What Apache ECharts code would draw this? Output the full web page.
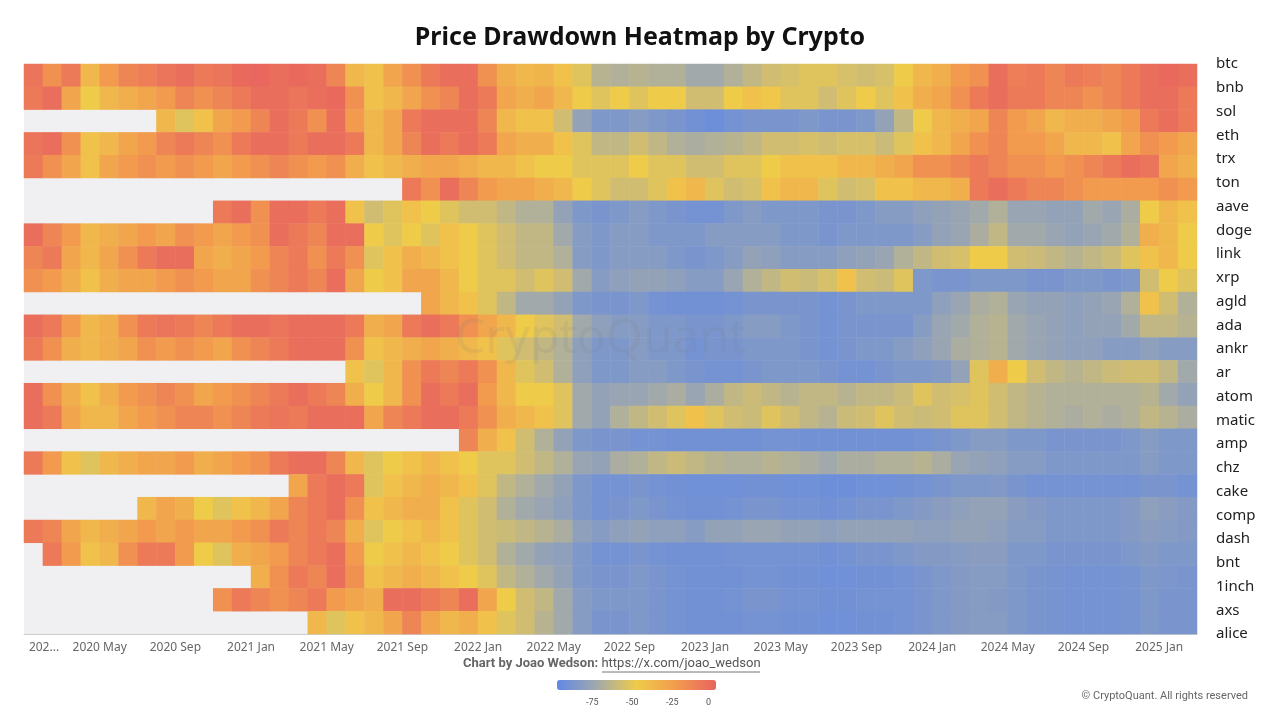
<!DOCTYPE html>
<html><head><meta charset="utf-8">
<script src="https://cdn.jsdelivr.net/npm/echarts@6/dist/echarts.min.js"></script>
<style>html,body{margin:0;padding:0;background:#fff}#c{width:1280px;height:720px}</style>
</head><body><div id="c"></div>
<script>
const coins = ['btc','bnb','sol','eth','trx','ton','aave','doge','link','xrp','agld','ada','ankr','ar','atom','matic','amp','chz','cake','comp','dash','bnt','1inch','axs','alice'];
const N = null;
// monthly drawdown (%) from Jan 2020 to Feb 2025
const btc = [-8, -20,-10,-40,-25,-15,-12,-8,-5,-10,-8,-3,-2, -5,-3,-5,-15,-40,-45,-30,-20,-10,-5,-5,-20, -35,-40,-38,-45,-55,-68,-70,-68,-70,-70,-75,-75, -70,-65,-60,-58,-55,-55,-58,-60,-58,-50,-40,-35, -25,-20,-5,-12,-10,-15,-10,-12,-15,-10,-5,-3, -5];
const bnb = [-10, -5,-30,-50,-40,-35,-30,-25,-15,-20,-15,-10,-5, -5,-8,-5,-3,-20,-45,-40,-30,-20,-15,-5,-10, -30,-35,-30,-40,-50,-55,-50,-55,-50,-50,-60,-60, -50,-45,-48,-55,-55,-60,-55,-50,-55,-45,-35,-30, -20,-10,-5,-10,-10,-15,-15,-20,-15,-10,-5,-5, -10];
const sol = [N, N,N,N,N,N,N,-40,-55,-45,-30,-25,-15, -5,-10,-20,-5,-25,-40,-30,-10,-5,-5,-5,-15, -40,-45,-45,-60,-80,-88,-88,-85,-88,-90,-93,-95, -92,-90,-90,-90,-88,-90,-90,-88,-80,-65,-50,-40, -35,-30,-15,-25,-30,-40,-35,-35,-30,-25,-10,-5, -10];
const eth = [-8, -5,-20,-45,-40,-30,-25,-15,-10,-15,-20,-10,-5, -5,-10,-5,-5,-10,-40,-30,-15,-5,-10,-5,-10, -30,-35,-35,-45,-55,-65,-65,-60,-65,-70,-72,-70, -68,-65,-60,-60,-58,-60,-58,-58,-62,-55,-45,-40, -30,-20,-15,-25,-25,-30,-40,-40,-45,-30,-20,-25, -30];
const trx = [-10, -20,-30,-45,-30,-25,-20,-25,-20,-25,-30,-25,-20, -15,-20,-25,-20,-35,-45,-40,-35,-30,-30,-35,-40, -40,-45,-50,-50,-55,-55,-55,-50,-55,-55,-60,-60, -55,-55,-50,-45,-45,-45,-40,-40,-35,-30,-20,-20, -15,-10,-15,-20,-20,-25,-20,-15,-10,-5,-8,-30, -35];
const ton = [N, N,N,N,N,N,N,N,N,N,N,N,N, N,N,N,N,N,N,N,-10,-20,-5,-15,-25, -30,-30,-35,-40,-50,-55,-60,-60,-55,-45,-40,-55, -60,-58,-45,-40,-40,-55,-60,-58,-45,-45,-40,-40, -35,-10,-5,-10,-15,-15,-20,-25,-25,-25,-25,-20, -25];
const aave = [N, N,N,N,N,N,N,N,N,N,-10,-5,-20, -5,-5,-10,-5,-45,-60,-55,-45,-50,-55,-60,-60, -65,-70,-70,-80,-88,-90,-88,-85,-88,-90,-92,-92, -88,-85,-88,-88,-88,-90,-90,-88,-85,-85,-82,-80, -78,-75,-70,-78,-78,-80,-80,-75,-78,-72,-50,-40, -45];
const doge = [-5, -15,-25,-40,-35,-30,-25,-30,-20,-25,-30,-25,-20, -5,-10,-15,-5,-5,-50,-55,-50,-55,-45,-50,-55, -60,-65,-65,-75,-85,-88,-85,-85,-88,-88,-88,-85, -85,-85,-85,-88,-88,-90,-88,-88,-88,-88,-85,-80, -78,-72,-65,-75,-75,-78,-80,-78,-75,-70,-35,-40, -50];
const link = [-15, -10,-30,-40,-30,-20,-10,-5,-5,-30,-35,-30,-25, -15,-10,-20,-10,-20,-55,-45,-35,-40,-45,-50,-55, -60,-65,-65,-70,-85,-88,-85,-85,-85,-88,-90,-88, -85,-80,-82,-85,-85,-85,-82,-80,-78,-70,-65,-60, -58,-50,-50,-60,-62,-65,-68,-65,-62,-55,-45,-40, -50];
const xrp = [-20, -25,-35,-45,-35,-30,-30,-25,-20,-25,-30,-30,-20, -15,-10,-15,-5,-30,-50,-45,-30,-30,-40,-50,-55, -55,-60,-55,-60,-75,-85,-82,-80,-80,-82,-85,-85, -78,-70,-65,-60,-62,-58,-45,-60,-62,-55,-88,-90, -90,-88,-88,-88,-90,-90,-88,-88,-90,-88,-60,-50, -55];
const agld = [N, N,N,N,N,N,N,N,N,N,N,N,N, N,N,N,N,N,N,N,N,-30,-40,-45,-55, -65,-75,-75,-80,-88,-90,-90,-88,-92,-93,-93,-93, -92,-90,-90,-90,-90,-92,-90,-88,-88,-88,-88,-82, -78,-72,-70,-78,-80,-80,-82,-80,-78,-70,-45,-60, -70];
const ada = [-5, -10,-25,-40,-35,-20,-10,-8,-10,-15,-10,-5,-5, -8,-5,-5,-5,-10,-35,-30,-10,-5,-10,-20,-30, -40,-50,-55,-60,-75,-82,-85,-85,-88,-88,-90,-90, -88,-85,-85,-88,-90,-92,-90,-90,-90,-90,-85,-78, -75,-70,-68,-75,-78,-80,-82,-80,-80,-75,-65,-65, -68];
const ankr = [-10, -20,-35,-40,-35,-30,-20,-25,-20,-25,-30,-20,-15, -10,-5,-5,-5,-20,-45,-40,-35,-30,-35,-40,-45, -55,-60,-65,-70,-82,-88,-88,-85,-88,-88,-92,-90, -90,-88,-88,-88,-90,-92,-90,-88,-88,-85,-82,-78, -72,-70,-68,-75,-78,-80,-82,-82,-85,-85,-82,-85, -85];
const ar = [N, N,N,N,N,N,N,N,N,N,N,N,N, N,N,N,N,-45,-55,-40,-20,-10,-15,-10,-20, -40,-55,-60,-70,-82,-88,-88,-85,-85,-88,-90,-92, -92,-90,-88,-88,-88,-90,-92,-92,-90,-88,-88,-86, -80,-55,-35,-50,-60,-65,-68,-65,-62,-60,-60,-65, -75];
const atom = [-5, -20,-35,-45,-35,-25,-20,-15,-20,-30,-25,-20,-15, -10,-5,-10,-15,-35,-50,-40,-20,-5,-10,-5,-25, -40,-50,-50,-55,-75,-80,-78,-78,-75,-72,-78,-72, -65,-62,-65,-68,-65,-65,-68,-65,-65,-62,-55,-60, -58,-55,-60,-65,-68,-70,-70,-70,-70,-70,-68,-75, -80];
const matic = [-5, -10,-30,-40,-40,-30,-25,-20,-15,-15,-20,-15,-10, -8,-10,-5,-5,-5,-30,-15,-10,-5,-5,-10,-20, -35,-40,-45,-55,-75,-80,-70,-65,-60,-55,-45,-55, -60,-62,-55,-60,-65,-68,-62,-60,-55,-60,-62,-60, -55,-55,-60,-65,-68,-70,-72,-70,-72,-70,-65,-68, -72];
const amp = [N, N,N,N,N,N,N,N,N,N,N,N,N, N,N,N,N,N,N,N,N,N,N,-15,-35, -45,-60,-70,-80,-88,-90,-90,-92,-92,-93,-93,-93, -93,-93,-92,-92,-93,-93,-93,-93,-93,-93,-92,-90, -88,-85,-85,-88,-88,-90,-90,-90,-90,-88,-85,-88, -88];
const chz = [-10, -25,-45,-55,-40,-35,-30,-30,-25,-35,-30,-25,-20, -10,-5,-5,-15,-40,-55,-50,-45,-40,-45,-50,-55, -55,-60,-65,-70,-78,-80,-72,-70,-65,-62,-65,-68, -70,-70,-68,-70,-72,-75,-72,-72,-70,-70,-68,-72, -78,-80,-82,-85,-85,-88,-88,-88,-88,-88,-85,-88, -88];
const cake = [N, N,N,N,N,N,N,N,N,N,N,N,N, N,-30,-10,-5,-10,-55,-45,-40,-35,-40,-45,-55, -65,-70,-75,-80,-88,-92,-92,-90,-92,-93,-94,-94, -94,-93,-93,-94,-94,-95,-95,-94,-94,-93,-92,-90, -88,-88,-87,-90,-92,-92,-92,-92,-92,-92,-90,-90, -92];
const comp = [N, N,N,N,N,N,-40,-30,-35,-50,-55,-45,-40, -30,-15,-10,-5,-20,-45,-40,-35,-35,-45,-55,-60, -70,-75,-78,-82,-88,-92,-90,-88,-90,-92,-93,-93, -92,-90,-90,-92,-92,-93,-92,-90,-90,-88,-86,-84, -82,-80,-80,-84,-86,-88,-88,-88,-88,-86,-82,-84, -86];
const dash = [-10, -15,-30,-40,-35,-30,-25,-30,-25,-30,-30,-25,-20, -10,-15,-10,-15,-35,-55,-50,-45,-40,-45,-55,-60, -62,-65,-68,-72,-82,-85,-82,-80,-82,-82,-85,-80, -80,-78,-78,-80,-80,-82,-80,-80,-80,-80,-82,-82, -80,-80,-82,-85,-85,-88,-88,-88,-88,-86,-84,-85, -86];
const bnt = [N, -10,-25,-45,-40,-20,-10,-10,-25,-50,-55,-35,-30, -25,-15,-10,-5,-25,-50,-45,-40,-45,-50,-55,-60, -70,-75,-80,-82,-88,-92,-92,-90,-92,-93,-93,-93, -92,-92,-92,-92,-92,-93,-92,-90,-90,-88,-86,-86, -85,-84,-84,-88,-88,-90,-90,-90,-90,-88,-86,-88, -88];
const inch1 = [N, N,N,N,N,N,N,N,N,N,N,N,-35, -20,-10,-15,-5,-20,-45,-40,-35,-40,-45,-50,-55, -65,-70,-75,-80,-88,-90,-90,-88,-90,-92,-93,-93, -93,-92,-92,-93,-93,-94,-94,-93,-93,-92,-90,-88, -86,-85,-85,-88,-90,-91,-92,-92,-92,-91,-88,-89, -90];
const axs = [N, N,N,N,N,N,N,N,N,N,-20,-10,-15, -20,-15,-10,-25,-30,-35,-5,-5,-10,-15,-5,-30, -50,-60,-65,-75,-85,-88,-88,-88,-90,-92,-93,-93, -92,-90,-90,-92,-92,-93,-93,-92,-92,-92,-90,-88, -86,-85,-86,-88,-90,-91,-92,-92,-92,-91,-88,-90, -90];
const alice = [N, N,N,N,N,N,N,N,N,N,N,N,N, N,N,-40,-55,-45,-40,-30,-15,-30,-40,-35,-45, -55,-60,-68,-75,-85,-90,-90,-88,-90,-92,-93,-93, -93,-92,-92,-93,-93,-94,-94,-93,-93,-92,-90,-88, -86,-85,-85,-88,-90,-91,-92,-92,-92,-91,-88,-90, -90];
const rows = [btc,bnb,sol,eth,trx,ton,aave,doge,link,xrp,agld,ada,ankr,ar,atom,matic,amp,chz,cake,comp,dash,bnt,inch1,axs,alice];
const monNames = ['Jan','Feb','Mar','Apr','May','Jun','Jul','Aug','Sep','Oct','Nov','Dec'];
const months = [];
for (let y = 2020; y <= 2025; y++) for (let m = 0; m < 12; m++) { if (y === 2025 && m > 2) break; months.push(y + ' ' + monNames[m]); }
const cells = months.slice(0, 62);
const tickLabels = ['202...','2020 May','2020 Sep','2021 Jan','2021 May','2021 Sep','2022 Jan','2022 May','2022 Sep','2023 Jan','2023 May','2023 Sep','2024 Jan','2024 May','2024 Sep','2025 Jan'];
const legendTicks = ['-75','-50','-25','0'];

const data = [];
rows.forEach((r, i) => r.forEach((v, m) => data.push([m, i, v === null ? '-' : v])));

const legendText = legendTicks.map((t, k) => ({ type: 'text', left: 586 + k * 40, top: 698,
  style: { text: t, fill: '#555', fontSize: 9, fontFamily: 'Roboto' } }));

const chart = echarts.init(document.getElementById('c'));
chart.setOption({
  backgroundColor: '#fff',
  title: { text: 'Price Drawdown Heatmap by Crypto', left: 'center', top: 20,
    textStyle: { fontFamily: 'Noto Sans', fontSize: 25, fontWeight: 'bold', color: '#111' } },
  grid: { left: 24, right: 83, top: 64, bottom: 86, show: true, backgroundColor: '#f0f0f3', borderWidth: 0 },
  xAxis: [
    { type: 'category', data: cells, show: false },
    { type: 'category', data: months, boundaryGap: false, position: 'bottom', max: 61.6,
      axisLine: { lineStyle: { color: '#ccc' } },
      axisTick: { interval: (i) => i % 4 === 0 && i > 0, lineStyle: { color: '#ccc' } },
      axisLabel: { interval: (i) => i % 4 === 0, color: '#666', fontSize: 12, fontFamily: 'Noto Sans',
        formatter: (v, i) => i === 0 ? '{f|' + tickLabels[0] + '}' : (tickLabels[i / 4] || ''),
        rich: { f: { padding: [0, 0, 0, 40], color: '#666', fontSize: 12, fontFamily: 'Noto Sans' } } } }
  ],
  yAxis: [
    { type: 'category', data: coins, inverse: true, show: false },
    { type: 'category', data: coins, inverse: true, position: 'right', boundaryGap: false,
      axisLine: { show: false }, axisTick: { show: false },
      axisLabel: { color: '#222', fontSize: 15, fontFamily: 'Noto Sans', margin: 19 } }
  ],
  visualMap: { type: 'continuous', min: -100, max: 0, calculable: false, orient: 'horizontal',
    left: 542, top: 665, itemWidth: 10, itemHeight: 159, text: null, showLabel: false,
    inRange: { color: ['#6088e6', '#a1a9ab', '#efcb4a', '#f29b4e', '#e8635f'] } },
  graphic: [
    { type: 'text', left: 463, top: 657, style: { rich: { b: { fontWeight: 'bold', fill: '#666', fontSize: 13, fontFamily: 'Roboto' }, u: { fill: '#555', fontSize: 13, fontFamily: 'Roboto' } }, text: '{b|Chart by Joao Wedson:} {u|https://x.com/joao_wedson}' } },
    { type: 'line', shape: { x1: 602, y1: 672, x2: 760, y2: 672 }, style: { stroke: '#777', lineWidth: 1 } },
    ...legendText,
    { type: 'text', right: 32, top: 691, style: { text: '© CryptoQuant. All rights reserved', fill: '#666', fontSize: 11, fontFamily: 'Roboto' } },
    { type: 'text', left: 455, top: 315, z: 100, style: { text: 'CryptoQuant', fill: 'rgba(120,120,120,0.12)', fontSize: 48, fontFamily: 'Noto Sans' } }
  ],
  series: [{ type: 'heatmap', xAxisIndex: 0, yAxisIndex: 0, data: data, emphasis: { disabled: true } }]
});
</script></body></html>
